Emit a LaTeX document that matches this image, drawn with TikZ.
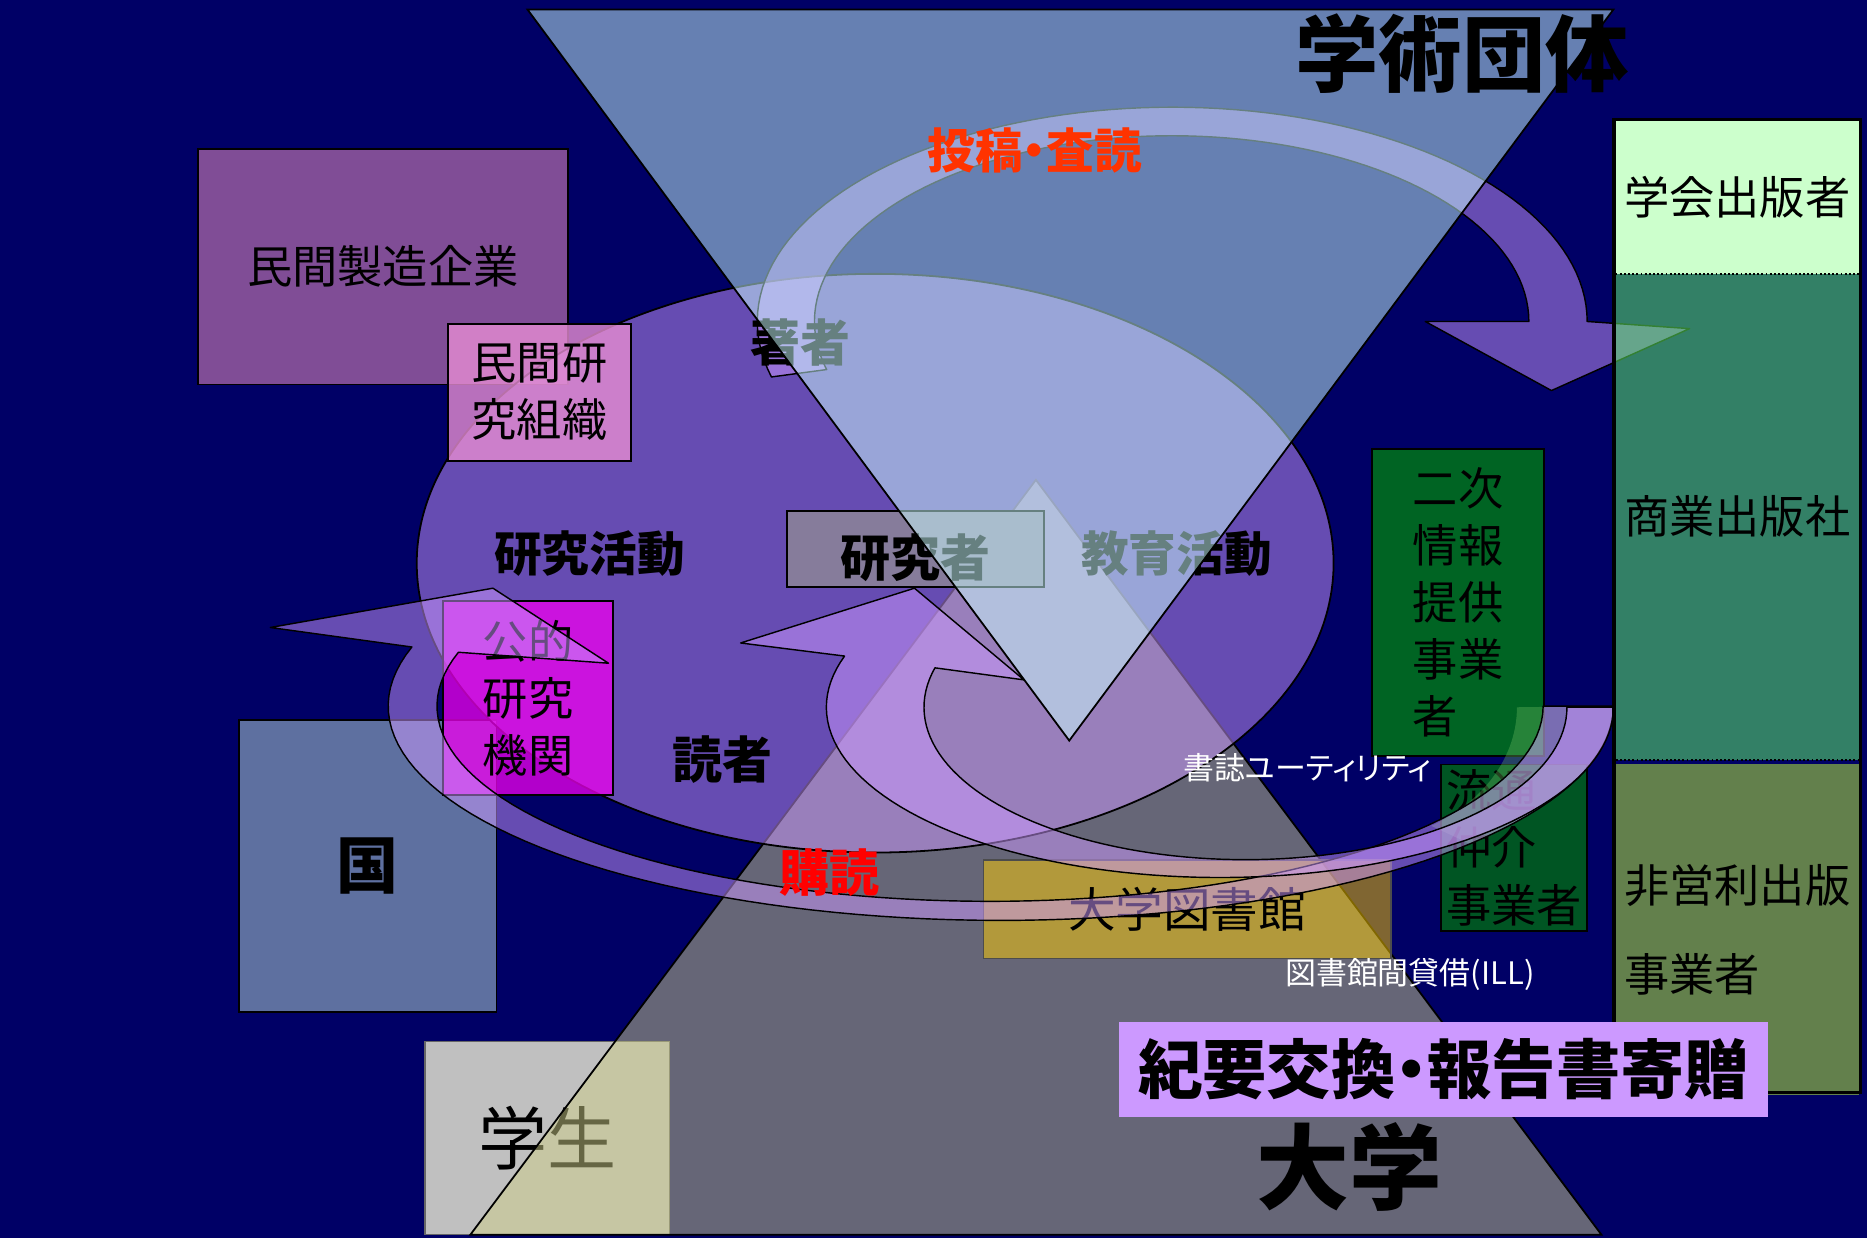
\documentclass[tikz,border=0pt]{standalone}
\usepackage{fontspec}
\setmainfont{Noto Sans CJK JP}[RawFeature=+palt]

\newcommand\jpsize[2]{\fontsize{#1}{#2}\selectfont}

\begin{document}
\begin{tikzpicture}[x=1pt, y=-1pt]
    \definecolor{night}{RGB}{0,0,102}
\definecolor{lilac}{RGB}{204,153,255}
\definecolor{ice}{RGB}{204,255,255}
\definecolor{sand}{RGB}{204,204,136}
\definecolor{maker}{RGB}{128,77,150}
\definecolor{rose}{RGB}{230,140,210}
\definecolor{fuchsia}{RGB}{238,0,238}
\definecolor{slatebox}{RGB}{94,112,160}
\definecolor{greybox}{RGB}{192,192,192}
\definecolor{amber}{RGB}{255,204,0}
\definecolor{mauve}{RGB}{134,124,155}
\definecolor{forest}{RGB}{0,100,35}
\definecolor{pine}{RGB}{0,85,35}
\definecolor{mint}{RGB}{204,255,204}
\definecolor{leaf}{RGB}{102,255,102}
\definecolor{moss}{RGB}{99,128,76}
\definecolor{fern}{RGB}{110,190,100}
\definecolor{scarlet}{RGB}{255,51,0}

\tikzset{
    org box/.style={
        draw=black, line width=1.5pt,
        inner sep=0pt, align=center,
        font=\jpsize{38}{48},
    },
    veil/.style={fill opacity=.5, text opacity=1},
    flow band/.style={
        draw=black, line width=1.2pt, line join=round,
        fill=lilac, fill opacity=.5,
    },
    heavy label/.style={font=\bfseries\jpsize{40}{48}},
    cell/.style={
        inner sep=0pt, minimum width=204pt,
        font=\jpsize{38}{48},
    },
}

\useasboundingbox (0,0) rectangle (1568,1040);
\fill[night] (0,0) rectangle (1568,1040);

% left-hand bodies
\node[org box, fill=maker, minimum width=311pt, minimum height=198pt]
    (manufacturer) at (321.5,224) {民間製造企業};
\node[org box, fill=slatebox, minimum width=216pt, minimum height=245pt,
    font=\bfseries\jpsize{52}{52}]
    (nation) at (309,727.5) {国};
\node[org box, draw=black!60, line width=1pt, fill=greybox,
    minimum width=205pt, minimum height=162pt, font=\jpsize{58}{58}]
    (student) at (459.5,956) {学生};

% university
\draw[veil, fill=sand, line width=1.5pt]
    (395,1037) -- (1345,1037) -- (870,403) -- cycle;
\node[org box, veil, draw=black!70, fill=amber,
    minimum width=342pt, minimum height=83pt, font=\jpsize{40}{48}]
    (library) at (997,763.5) {大学図書館};

% research and teaching
\draw[veil, fill=lilac, line width=1.5pt]
    (735,473) ellipse [x radius=385, y radius=243];

\node[org box, fill=rose, fill opacity=.8, text opacity=1,
    minimum width=154pt, minimum height=115pt]
    (privatelab) at (453,329.5) {民間研\\究組織};
\node[org box, fill=fuchsia, fill opacity=.75, text opacity=1,
    minimum width=143pt, minimum height=163pt]
    (publiclab) at (443.5,586.5) {公的\\研究\\機関};
\node[org box, fill=mauve, minimum width=216pt, minimum height=64pt]
    (researcher) at (769,461) {};

\node[org box, fill=forest, align=left,
    minimum width=145pt, minimum height=258pt]
    (secondary) at (1224.5,506) {二次\\情報\\提供\\事業\\者};
\node[org box, fill=pine, align=left,
    minimum width=123pt, minimum height=140pt]
    (distributor) at (1271.5,712) {流通\\仲介\\事業者};

\fill[fern, fill opacity=.35]
    plot[domain=0:60, samples=30] ({1130+144*cos(\x)}, {594+115*sin(\x)})
    -- plot[domain=40:0, samples=30] ({840.5+514.5*cos(\x)}, {593+180*sin(\x)})
    -- cycle;

% circulation arrows
\draw[flow band]
    plot[domain=0:196, samples=90] ({831.5+464.5*cos(\x)}, {593+164*sin(\x)})
    -- (511,557) -- (414,494) -- (227,527)
    -- plot[domain=196:0, samples=90] ({840.5+514.5*cos(\x)}, {593+180*sin(\x)})
    -- cycle;

\draw[flow band]
    plot[domain=0:195, samples=90] ({1046+270*cos(\x)}, {594+128*sin(\x)})
    -- (860,571) -- (768,494) -- (622,540)
    -- plot[domain=197.5:0, samples=90] ({1024.5+330.5*cos(\x)}, {594+143*sin(\x)})
    -- cycle;

\draw[flow band]
    plot[domain=165:360, samples=90] ({984.5+348.5*cos(\x)}, {270+180*sin(\x)})
    -- (1419,276) -- (1303,328) -- (1197,270)
    -- plot[domain=360:165, samples=90] ({984+300*cos(\x)}, {270+156*sin(\x)})
    -- cycle;

% publishers
\node[cell, fill=mint, minimum height=128pt] (society) at (1459,166) {学会出版者};
\node[cell, veil, fill=leaf, minimum height=408pt] (commercial) at (1459,434) {商業出版社};
\node[cell, fill=moss, minimum height=278pt, align=left, font=\jpsize{38}{75}]
    (nonprofit) at (1459,781) {非営利出版\\事業者};
\draw[dotted, line width=1.5pt] (commercial.north west) -- (commercial.north east);
\draw[dotted, line width=1.5pt] (1357,638) -- (1561,638);
\draw[line width=3pt] (1355.5,100.5) rectangle (1562.5,917.5);

\node[heavy label] (researchact) at (495,465) {研究活動};
\node[heavy label] (teachact) at (988,465) {教育活動};
\node[font=\bfseries\jpsize{42}{42}] (authors) at (672,288) {著者};
\node[font=\bfseries\jpsize{42}{42}] (readers) at (607,638) {読者};
\node[font=\bfseries\jpsize{42}{42}] (researchername) at (769,468) {研究者};

% academic societies
\draw[veil, fill=ice, line width=1.5pt]
    (443,8) -- (1355,8) -- (898,622) -- cycle;

\node[font=\bfseries\jpsize{70}{70}] (societylabel) at (1228,45) {学術団体};
\node[font=\bfseries\jpsize{40}{40}, text=scarlet] (review) at (869,126) {投稿・査読};
\node[font=\bfseries\jpsize{42}{42}, text=red] (subscribe) at (697,733) {購読};
\node[font=\jpsize{26}{26}, text=white] (utility) at (1098,645) {書誌ユーティリティ};
\node[font=\jpsize{26}{26}, text=white] (ill) at (1184,818) {図書館間貸借(ILL)};
\node[fill=lilac, inner sep=0pt, minimum width=545pt, minimum height=80pt,
    font=\bfseries\jpsize{54}{54}]
    (exchange) at (1212.5,898) {紀要交換・報告書寄贈};
\node[font=\bfseries\jpsize{78}{78}] (university) at (1133,980) {大学};
\end{tikzpicture}
\end{document}
